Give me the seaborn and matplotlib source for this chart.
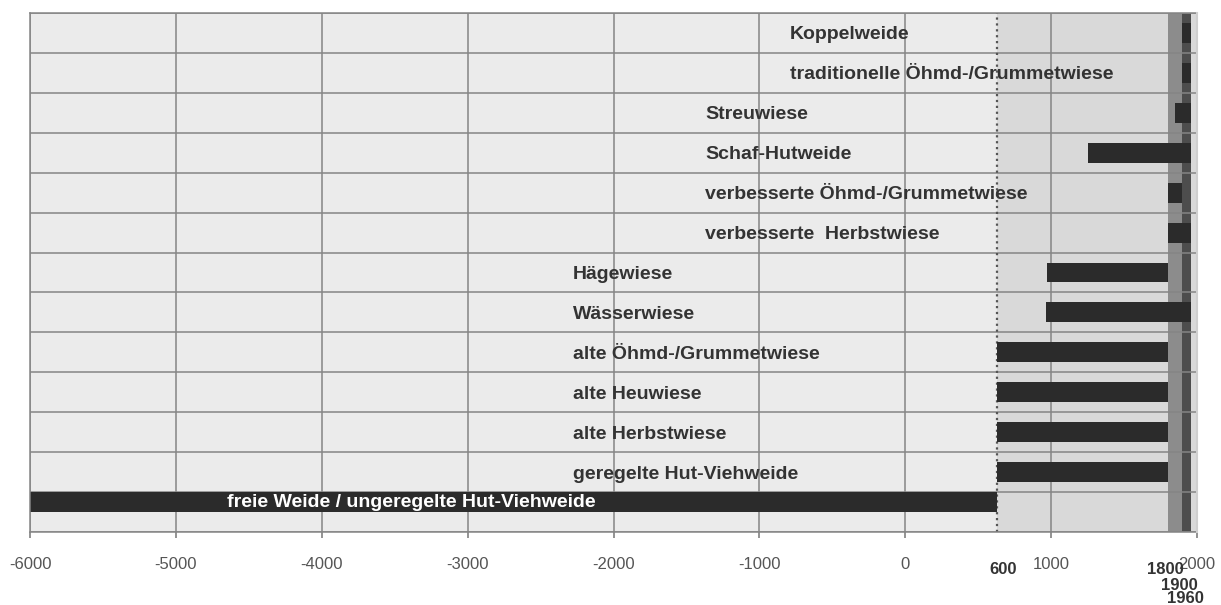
import matplotlib
matplotlib.use("Agg")
import matplotlib.pyplot as plt
import seaborn as sns

# land-use forms, top to bottom
categories = [
    "Koppelweide",
    "traditionelle Öhmd-/Grummetwiese",
    "Streuwiese",
    "Schaf-Hutweide",
    "verbesserte Öhmd-/Grummetwiese",
    "verbesserte  Herbstwiese",
    "Hägewiese",
    "Wässerwiese",
    "alte Öhmd-/Grummetwiese",
    "alte Heuwiese",
    "alte Herbstwiese",
    "geregelte Hut-Viehweide",
    "freie Weide / ungeregelte Hut-Viehweide",
]
start_year = [1900, 1900, 1850, 1250, 1800, 1800, 970, 965, 630, 630, 630, 630, -6000]
end_year = [1960, 1960, 1960, 1960, 1900, 1960, 1800, 1960, 1800, 1800, 1800, 1800, 630]

x_ticks = [-6000, -5000, -4000, -3000, -2000, -1000, 0, 1000, 2000]
epoch_edges = [630, 1800, 1900, 1960, 2000]
epoch_labels = ["600", "1800", "1900", "1960"]

duration = [e - s for s, e in zip(start_year, end_year)]

sns.set_theme(style="whitegrid")
plt.rcParams["font.family"] = ["Liberation Sans", "DejaVu Sans"]
plt.rcParams["axes.unicode_minus"] = False

fig = plt.figure(figsize=(12.21, 6.05), dpi=100)
ax = fig.add_axes([30 / 1221, 1 - 532 / 605, 1167 / 1221, 519 / 605])
ax.set_facecolor("#ebebeb")

# epoch shading
ax.axvspan(epoch_edges[0], epoch_edges[-1], color="#d9d9d9", zorder=0.2, lw=0)
ax.axvspan(epoch_edges[1], epoch_edges[2], color="#8c8c8c", zorder=0.3, lw=0)
ax.axvspan(epoch_edges[2], epoch_edges[3], color="#4d4d4d", zorder=0.3, lw=0)
ax.axvline(epoch_edges[0], color="#555555", ls=":", lw=1.6, zorder=0.6)

sns.barplot(x=duration, y=categories, left=start_year, orient="y",
            color="#2b2b2b", saturation=1, width=0.5, errorbar=None,
            linewidth=0, edgecolor="none", zorder=2, ax=ax)

# the bottom bar sits a bit higher in its row
ax.patches[-1].set_y(ax.patches[-1].get_y() - 0.25)

# row labels
label_x = {0: -790, 1: -790, 2: -1370, 3: -1370, 4: -1370, 5: -1370}
for i, name in enumerate(categories):
    if i == len(categories) - 1:
        ax.text(-4650, i - 0.25, name, color="white", fontsize=14,
                fontweight="bold", va="center", ha="left", zorder=3)
    else:
        ax.text(label_x.get(i, -2280), i + 0.05, name, color="#333333",
                fontsize=14, fontweight="bold", va="center", ha="left", zorder=3)

ax.set_xlim(-6000, 2000)
ax.set_ylim(len(categories) - 0.5, -0.5)
ax.set_xticks(x_ticks)
ax.set_yticks([i - 0.5 for i in range(len(categories) + 1)])
ax.set_yticklabels([])
ax.set_xlabel("")
ax.set_ylabel("")
ax.grid(True, color="#858585", lw=1.1)
ax.set_axisbelow(True)
ax.tick_params(axis="x", labelsize=12, labelcolor="#555555", length=4,
               color="#858585", pad=14, bottom=True)
ax.tick_params(axis="y", length=0)

for side in ["left", "top", "bottom"]:
    ax.spines[side].set_color("#858585")
    ax.spines[side].set_linewidth(1.1)
ax.spines["right"].set_color("#cfcfcf")
ax.spines["right"].set_linewidth(1.5)
ax.spines["right"].set_zorder(5)

# bold epoch labels under the axis
trans = ax.get_xaxis_transform()
label_pos = [(670, -0.073), (1781, -0.073), (1877, -0.104), (1918, -0.129)]
for txt, (lx, ly) in zip(epoch_labels, label_pos):
    ax.text(lx, ly, txt, transform=trans, fontsize=12, fontweight="bold",
            color="#333333", ha="center", va="center")

fig.savefig("out.png", dpi=100, facecolor="white")
